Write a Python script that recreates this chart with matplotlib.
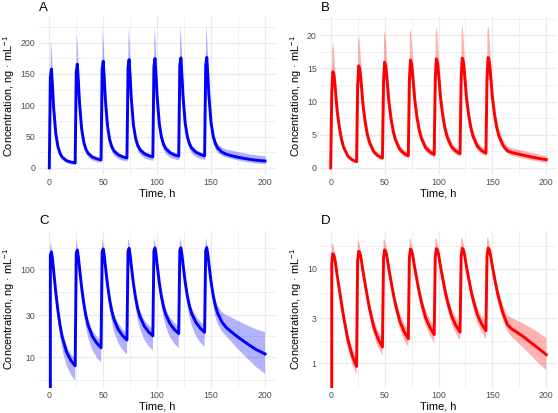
import matplotlib
matplotlib.use("Agg")
import matplotlib.pyplot as plt
from matplotlib.ticker import NullFormatter
import numpy as np

plt.rcParams['font.family'] = ['Liberation Sans', 'DejaVu Sans']
plt.rcParams['mathtext.fontset'] = 'custom'
plt.rcParams['mathtext.rm'] = 'Liberation Sans'
plt.rcParams['mathtext.it'] = 'Liberation Sans:italic'
plt.rcParams['mathtext.bf'] = 'Liberation Sans:bold'

# ---------------- data ----------------
time_h = [
    0, 1, 2, 3, 4, 6, 8, 10, 12, 16, 20,
    24, 25, 26, 27, 28, 30, 32, 34, 36, 40, 44,
    48, 49, 50, 51, 52, 54, 56, 58, 60, 64, 68,
    72, 73, 74, 75, 76, 78, 80, 82, 84, 88, 92,
    96, 97, 98, 99, 100, 102, 104, 106, 108, 112, 116,
    120, 121, 122, 123, 124, 126, 128, 130, 132, 136, 140,
    144, 145, 146, 147, 148, 150, 152, 154, 156, 160, 164,
    168, 174, 180, 186, 192, 200,
]

blue_mean = [
    0, 145, 158, 130, 97, 55, 34, 23, 17, 11.5, 9.2,
    8.0, 152.8, 165.7, 137.5, 104.4, 62.1, 40.8, 29.5, 23.2, 17.2, 14.5,
    12.8, 157.5, 170.3, 142.0, 108.8, 66.3, 44.8, 33.4, 26.9, 20.7, 17.6,
    15.7, 160.4, 173.1, 144.7, 111.4, 68.8, 47.3, 35.7, 29.2, 22.7, 19.5,
    17.5, 162.1, 174.8, 146.4, 113.1, 70.4, 48.8, 37.2, 30.6, 24.0, 20.7,
    18.6, 163.2, 175.8, 147.5, 114.1, 71.4, 49.7, 38.1, 31.5, 24.8, 21.4,
    19.2, 163.8, 176.4, 148.0, 114.6, 71.9, 50.2, 38.6, 31.9, 25.2, 21.8,
    19.8, 17.3, 15.3, 13.6, 12.2, 10.9,
]
blue_hi = [
    0, 205, 185, 147, 109, 61.6, 38.4, 26.5, 19.7, 13.6, 10.9,
    9.6, 215, 194, 155, 117, 69.6, 46.1, 33.9, 26.9, 20.3, 17.3,
    15.4, 221, 199, 160, 122, 74.3, 50.6, 38.4, 31.2, 24.4, 20.9,
    18.8, 225, 203, 164, 125, 77.1, 53.4, 41.1, 33.9, 26.8, 23.2,
    21.0, 227, 205, 165, 127, 78.8, 55.1, 42.8, 35.5, 28.3, 24.6,
    22.3, 229, 206, 167, 128, 80.0, 56.2, 43.8, 36.5, 29.3, 25.5,
    23.0, 229, 206, 167, 128, 80.5, 56.7, 45.2, 38.9, 32.8, 30.1,
    28.7, 26.3, 24.2, 22.3, 20.7, 19.3,
]
blue_lo = [
    0, 87, 139, 120, 85.4, 46.2, 26.9, 17.5, 12.4, 8.05, 6.35,
    5.44, 91.7, 146, 126.5, 91.9, 52.2, 32.2, 22.4, 16.9, 12.0, 10.0,
    8.7, 94.5, 150, 130.6, 95.7, 55.7, 35.4, 25.4, 19.6, 14.5, 12.1,
    10.7, 96.2, 152, 133, 98.0, 57.8, 37.4, 27.1, 21.3, 15.9, 13.5,
    11.9, 97.3, 154, 134.7, 99.5, 59.1, 38.6, 28.3, 22.3, 16.8, 14.3,
    12.6, 97.9, 155, 135.7, 100.4, 60.0, 39.3, 29.0, 23.0, 17.4, 14.8,
    13.1, 98.3, 155, 136.2, 100.8, 60.4, 39.7, 29.0, 24.2, 19.7, 17.4,
    15.4, 12.8, 10.7, 9.1, 7.7, 6.5,
]

red_mean = [
    0, 11.5, 14.5, 14.0, 12.5, 8.6, 6.1, 4.3, 3.1, 1.75, 1.2,
    0.92, 12.40, 15.38, 14.86, 13.35, 9.41, 6.88, 5.05, 3.81, 2.41, 1.80,
    1.48, 12.95, 15.92, 15.39, 13.86, 9.91, 7.35, 5.50, 4.25, 2.81, 2.17,
    1.81, 13.27, 16.24, 15.70, 14.16, 10.20, 7.63, 5.77, 4.51, 3.04, 2.39,
    2.01, 13.47, 16.43, 15.89, 14.35, 10.37, 7.80, 5.93, 4.66, 3.19, 2.52,
    2.13, 13.59, 16.54, 16.00, 14.46, 10.48, 7.90, 6.03, 4.76, 3.27, 2.60,
    2.21, 13.66, 16.62, 16.08, 14.53, 10.55, 7.97, 6.09, 4.82, 3.33, 2.55,
    2.30, 2.08, 1.86, 1.64, 1.45, 1.23,
]
red_hi = [
    0, 18.1, 18.9, 16.8, 14.4, 9.8, 7.0, 5.03, 3.66, 2.1, 1.46,
    1.13, 19.2, 20.0, 17.8, 15.4, 10.7, 7.9, 5.9, 4.5, 2.89, 2.2,
    1.82, 19.9, 20.7, 18.5, 15.9, 11.3, 8.45, 6.4, 5.0, 3.37, 2.65,
    2.23, 20.3, 21.1, 18.8, 16.3, 11.6, 8.8, 6.75, 5.3, 3.65, 2.92,
    2.47, 20.5, 21.4, 19.1, 16.5, 11.8, 9.0, 6.9, 5.5, 3.83, 3.07,
    2.62, 20.7, 21.5, 19.2, 16.6, 11.9, 9.1, 7.05, 5.6, 3.92, 3.17,
    2.72, 20.8, 21.6, 19.3, 16.7, 12.0, 9.2, 7.1, 5.8, 4.1, 3.2,
    3.0, 2.8, 2.59, 2.35, 2.13, 1.85,
]
red_lo = [
    0, 7.1, 12.2, 12.3, 11.0, 7.4, 5.2, 3.6, 2.57, 1.44, 0.98,
    0.75, 7.7, 12.9, 13.1, 11.7, 8.1, 5.85, 4.24, 3.16, 1.98, 1.48,
    1.2, 8.0, 13.4, 13.5, 12.2, 8.5, 6.25, 4.62, 3.53, 2.3, 1.78,
    1.47, 8.2, 13.6, 13.8, 12.5, 8.8, 6.5, 4.85, 3.74, 2.49, 1.96,
    1.63, 8.35, 13.8, 14.0, 12.6, 8.9, 6.6, 4.98, 3.87, 2.62, 2.07,
    1.73, 8.4, 13.9, 14.1, 12.7, 9.0, 6.7, 5.07, 3.95, 2.68, 2.13,
    1.79, 8.5, 14.0, 14.2, 12.8, 9.1, 6.8, 5.1, 4.05, 2.83, 2.17,
    1.89, 1.64, 1.41, 1.2, 1.02, 0.84,
]

x_ticks = [0, 50, 100, 150, 200]
x_minor = [25, 75, 125, 175]
yticks_A = [0, 50, 100, 150, 200]
yminor_A = [25, 75, 125, 175, 225]
yticks_B = [0, 5, 10, 15, 20]
yminor_B = [2.5, 7.5, 12.5, 17.5, 22.5]
yticks_C = [10, 30, 100]
yminor_C = [5.48, 17.3, 54.8, 173]
yticks_D = [1, 3, 10]
yminor_D = [0.548, 1.73, 5.48, 17.3]

panel_tags = ['A', 'B', 'C', 'D']
x_title = 'Time, h'
y_title = 'Concentration, ng · mL$^{-1}$'

BLUE = '#0000FF'
RED = '#FF0000'
GRID = '#EBEBEB'

# ---------------- layout ----------------
W, H = 558, 413
fig = plt.figure(figsize=(W / 100, H / 100), dpi=100)
fig.patch.set_facecolor('white')


def ax_at(left, top, right, bottom):
    return fig.add_axes([left / W, 1 - bottom / H, (right - left) / W, (bottom - top) / H])


def ylims(lo, hi, log):
    vals = np.concatenate([np.asarray(lo, float), np.asarray(hi, float)])
    if log:
        v = np.log10(vals[vals > 0])
        a, b = v.min(), v.max()
        s = b - a
        return 10 ** (a - 0.05 * s), 10 ** (b + 0.05 * s)
    a, b = vals.min(), vals.max()
    s = b - a
    return a - 0.05 * s, b + 0.05 * s


panels = [
    ('A', BLUE, blue_mean, blue_lo, blue_hi, False, yticks_A, yminor_A, (38.5, 17.4, 275.8, 175.0), 9.0),
    ('B', RED, red_mean, red_lo, red_hi, False, yticks_B, yminor_B, (319.9, 17.4, 557.1, 175.0), 296.0),
    ('C', BLUE, blue_mean, blue_lo, blue_hi, True, yticks_C, yminor_C, (38.5, 230.5, 275.8, 387.7), 9.0),
    ('D', RED, red_mean, red_lo, red_hi, True, yticks_D, yminor_D, (319.9, 230.5, 557.1, 387.7), 296.0),
]

for tag, col, mean, lo, hi, log, yt, ym, box, ytx in panels:
    left, top, right, bottom = box
    ax = ax_at(left, top, right, bottom)
    ax.set_facecolor('white')
    if log:
        ax.set_yscale('log')
    ax.fill_between(time_h, lo, hi, color=col, alpha=0.3, lw=0, zorder=2)
    ax.plot(time_h, mean, color=col, lw=2.1, solid_joinstyle='round', zorder=3)
    ax.set_xlim(-10, 210)
    ax.set_ylim(*ylims(lo, hi, log))
    ax.set_xticks(x_ticks)
    ax.set_xticks(x_minor, minor=True)
    ax.set_yticks(yt)
    ax.set_yticklabels([('%g' % v) for v in yt])
    ax.set_yticks(ym, minor=True)
    ax.xaxis.set_minor_formatter(NullFormatter())
    ax.yaxis.set_minor_formatter(NullFormatter())
    ax.tick_params(which='both', length=0)
    ax.tick_params(axis='x', which='major', pad=2.5, labelsize=6.3, labelcolor='#4D4D4D')
    ax.tick_params(axis='y', which='major', pad=2.3, labelsize=6.3, labelcolor='#4D4D4D')
    ax.grid(True, which='major', color=GRID, lw=1.0)
    ax.grid(True, which='minor', color=GRID, lw=0.5)
    ax.set_axisbelow(True)
    for s in ax.spines.values():
        s.set_visible(False)

    # tag
    fig.text((left + 0.5) / W, 1 - (top - 6.0) / H, tag, fontsize=9.5,
             ha='left', va='baseline', color='black')
    # axis titles
    fig.text((left + right) / 2 / W, 1 - (bottom + 22.0) / H, x_title,
             fontsize=7.9, ha='center', va='baseline', color='black')
    fig.text(ytx / W, 1 - (top + bottom) / 2 / H, y_title, fontsize=7.9,
             rotation=90, ha='center', va='center', color='black')

fig.savefig('out.png', dpi=100, facecolor='white')
